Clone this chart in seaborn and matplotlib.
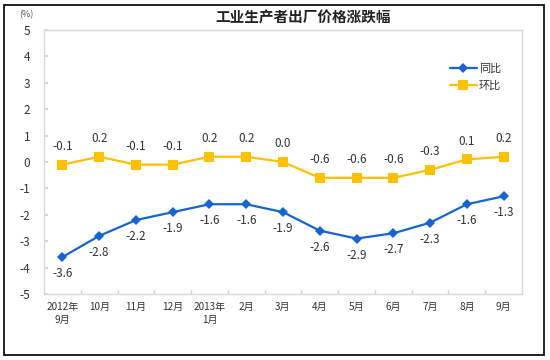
import matplotlib
matplotlib.use("Agg")
import matplotlib.pyplot as plt
import matplotlib.patches as mpatches
import seaborn as sns
import pandas as pd

categories = ["2012年\n9月", "10月", "11月", "12月", "2013年\n1月", "2月", "3月",
              "4月", "5月", "6月", "7月", "8月", "9月"]
yoy = [-3.6, -2.8, -2.2, -1.9, -1.6, -1.6, -1.9, -2.6, -2.9, -2.7, -2.3, -1.6, -1.3]
mom = [-0.1, 0.2, -0.1, -0.1, 0.2, 0.2, 0.0, -0.6, -0.6, -0.6, -0.3, 0.1, 0.2]
series_names = ["同比", "环比"]
title = "工业生产者出厂价格涨跌幅"
unit = "(%)"

sns.set_theme(style="white")
plt.rcParams['font.family'] = ['Noto Sans CJK SC', 'DejaVu Sans']
plt.rcParams['axes.unicode_minus'] = False

BLUE = "#1464D2"
GOLD = "#FFC000"
TXT = "#333333"

df = pd.DataFrame({
    "pos": list(range(len(categories))) * 2,
    "value": yoy + mom,
    "series": [series_names[0]] * len(yoy) + [series_names[1]] * len(mom),
})

fig = plt.figure(figsize=(5.5, 3.6), dpi=100)
ax = fig.add_axes([44/550, 1-294/360, (522-44)/550, (294-30)/360])

sns.lineplot(data=df, x="pos", y="value", hue="series", style="series",
             markers={series_names[0]: "D", series_names[1]: "s"}, dashes=False,
             palette={series_names[0]: BLUE, series_names[1]: GOLD},
             linewidth=1.6, markersize=5.5, markeredgewidth=0, ax=ax)

# markers sizes: square slightly larger
for line in ax.lines:
    if line.get_color() == GOLD or line.get_markerfacecolor() == GOLD:
        line.set_markersize(6.5)

for i, v in enumerate(yoy):
    ax.annotate(f"{v:.1f}", (i, v), xytext=(0, -12), textcoords="offset points",
                ha="center", va="center", fontsize=8.5, color=TXT)
for i, v in enumerate(mom):
    ax.annotate(f"{v:.1f}", (i, v), xytext=(0, 13), textcoords="offset points",
                ha="center", va="center", fontsize=8.5, color=TXT)

ax.set_xlim(-0.5, len(categories) - 0.5)
ax.set_ylim(-5, 5)
ax.set_yticks(range(-5, 6))
ax.set_yticklabels([str(t) for t in range(-5, 6)], fontsize=8.5, color=TXT)
ax.set_xticks(range(len(categories)))
ax.set_xticklabels(categories, fontsize=7.2, color=TXT, linespacing=1.3)
ax.set_xticks([i - 0.5 for i in range(1, len(categories))], minor=True)
ax.tick_params(axis="x", which="major", length=0, pad=6)
ax.tick_params(axis="x", which="minor", direction="in", length=3, color="#D0D0D0", bottom=True)
ax.tick_params(axis="y", direction="in", length=3, color="#D0D0D0", left=True, pad=10)
ax.set_xlabel("")
ax.set_ylabel("")
for s in ax.spines.values():
    s.set_color("#D9D9D9")
    s.set_linewidth(1.0)

handles, labels = ax.get_legend_handles_labels()
ax.legend(handles, labels, loc="upper left", bbox_to_anchor=(0.84, 0.89),
          frameon=False, fontsize=8, handlelength=2.4, handletextpad=0.2,
          labelspacing=0.6, labelcolor=TXT, borderaxespad=0)

fig.text(303/550, 1-17/360, title, ha="center", va="center", fontsize=10.5,
         fontweight="bold", color="#222222")
fig.text(26/550, 1-15/360, unit, ha="center", va="center", fontsize=6.5, color="#555555")

fig.patches.append(mpatches.Rectangle((4/550, 5/360), 540/550, 350/360,
                                      transform=fig.transFigure, fill=False,
                                      edgecolor="#111111", linewidth=1.3))

fig.savefig("out.png", dpi=100)
